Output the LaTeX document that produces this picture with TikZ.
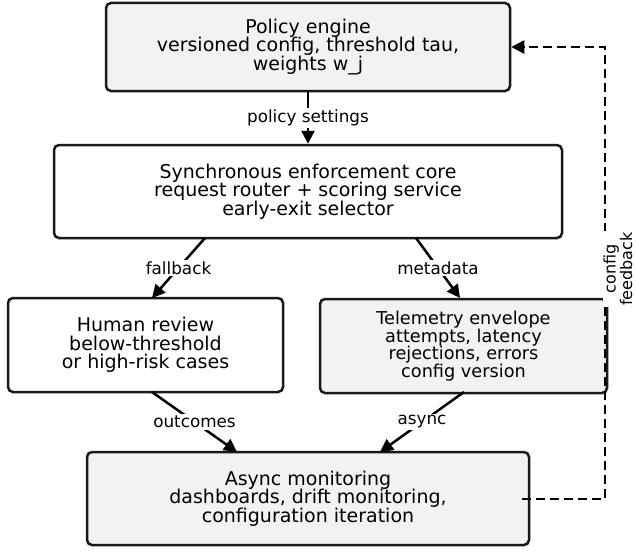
\documentclass[tikz,border=0pt]{standalone}
\usepackage{fontspec}
\setmainfont{DejaVu Sans}
\usetikzlibrary{arrows.meta}
\begin{document}
\begin{tikzpicture}[x=1pt,y=-1pt,
  box/.style={draw=black!90,line width=2.5pt,rounded corners=5pt,align=center,inner sep=0pt},
  grey/.style={fill=black!5},
  lbl/.style={fill=white,inner sep=1.5pt,font=\fontsize{16.8}{17}\selectfont},
  arr/.style={line width=2.5pt,-{Triangle[length=13pt,width=13pt]}},
  big/.style={font=\fontsize{19}{18.5}\selectfont}]
\useasboundingbox (0,0) rectangle (636,551);
\node[box,grey,big,minimum width=404pt,minimum height=88pt] (pol) at (308,47)
  {Policy engine\\versioned config, threshold tau,\\weights w\_j};
\node[box,big,minimum width=508pt,minimum height=93pt] (core) at (308,191.5)
  {Synchronous enforcement core\\request router + scoring service\\early-exit selector};
\node[box,big,minimum width=275pt,minimum height=94pt] (hum) at (145.5,345)
  {Human review\\below-threshold\\or high-risk cases};
\node[box,grey,font=\fontsize{17.7}{17.7}\selectfont,minimum width=287pt,minimum height=94pt] (tel) at (463.5,346)
  {Telemetry envelope\\attempts, latency\\rejections, errors\\config version};
\node[box,grey,big,minimum width=442pt,minimum height=93pt] (mon) at (308,498.5)
  {Async monitoring\\dashboards, drift monitoring,\\configuration iteration};
\coordinate (c1) at (205,238); \coordinate (h1) at (152,298);
\coordinate (c2) at (416,238); \coordinate (t1) at (460,298);
\coordinate (h2) at (152,392); \coordinate (m1) at (237,452);
\coordinate (t2) at (464,392); \coordinate (m2) at (380,452);
\draw[arr] (pol.south) -- node[lbl]{policy settings} (core.north);
\draw[arr] (c1) -- node[lbl]{fallback} (h1);
\draw[arr] (c2) -- node[lbl]{metadata} (t1);
\draw[arr] (h2) -- node[lbl]{outcomes} (m1);
\draw[arr] (t2) -- node[lbl]{async} (m2);
\coordinate (f0) at (522,499);
\coordinate (f1) at (605,499);
\coordinate (f2) at (605,47);
\draw[line width=2.5pt,dash pattern=on 9pt off 5pt,-{Triangle[length=13pt,width=13pt]}]
  (f0) -- (f1) -- (f2) -- (pol.east);
\node[rotate=90,align=center,fill=white,inner sep=1pt,font=\fontsize{16}{16.5}\selectfont] (fb) at (618,269) {config\\feedback};
\end{tikzpicture}
\end{document}
